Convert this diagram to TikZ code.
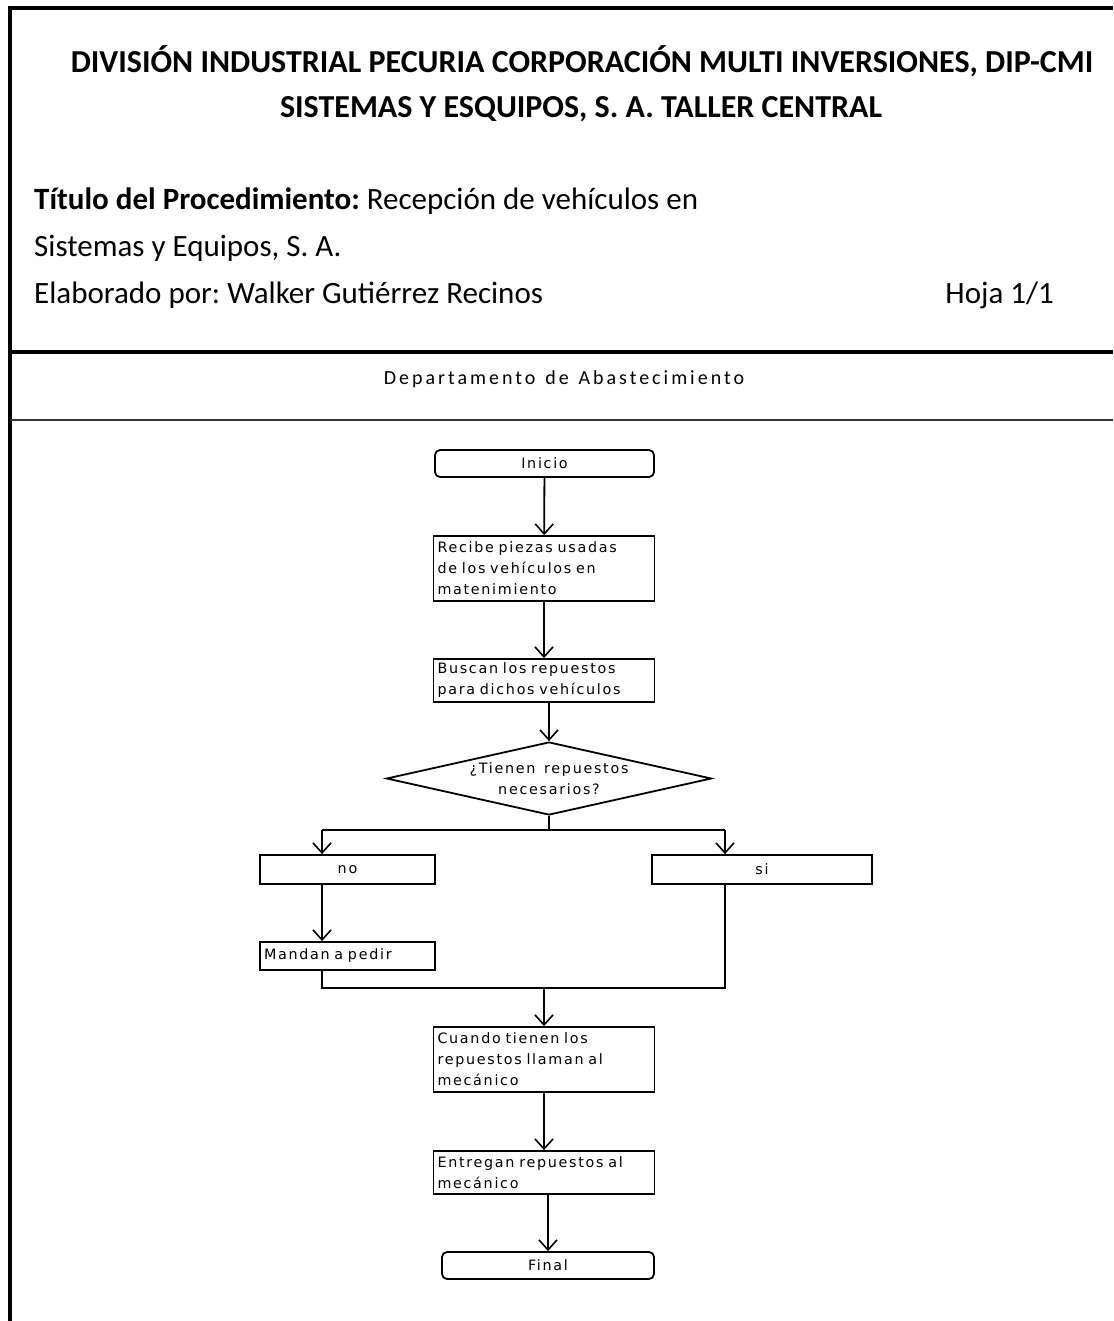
\documentclass[tikz,border=0pt]{standalone}
\usepackage{fontspec}
\setmainfont{Carlito}
\newfontfamily\flowfont{DejaVu Sans}[LetterSpace=12,WordSpace=1.4]
\newfontfamily\deptfont{Carlito}[LetterSpace=15,WordSpace=1.3]
\usetikzlibrary{arrows.meta,shapes.geometric,calc}
\frenchspacing
\begin{document}
\begin{tikzpicture}[x=1pt,y=-1pt,
  every node/.style={inner sep=0pt},
  box/.style={draw,line width=1.8pt,minimum height=#1,font=\flowfont\fontsize{14.3}{21}\selectfont},
  txtbox/.style={box=#1,text width=213pt,minimum width=221pt,align=left},
  term/.style={box=27pt,rounded corners=5pt},
  decision/.style={draw,line width=1.8pt,diamond,aspect=4.45,minimum width=325pt,minimum height=73pt,
    align=center,font=\flowfont\fontsize{14.3}{21}\selectfont},
  flow/.style={line width=1.8pt,-{Straight Barb[length=10pt,width=18pt,line width=1.6pt]}},
  link/.style={line width=1.8pt},
  head/.style={anchor=base west,font=\fontsize{31}{36}\selectfont}]
\useasboundingbox (0,0) rectangle (1113,1321);
\fill[white] (0,0) rectangle (1113,1321);

% page frame and header rules
\draw[line width=3.5pt] (10,1321) -- (10,8) -- (1113,8);
\draw[line width=3.5pt] (10,352) -- (1113,352);
\draw[line width=2.5pt,black!80] (10,420) -- (1113,420);

% header
\node[anchor=base,font=\bfseries\fontsize{32}{38}\selectfont] (t1) at (582,73)
  {DIVISIÓN INDUSTRIAL PECURIA CORPORACIÓN MULTI INVERSIONES, DIP-CMI};
\node[anchor=base,font=\bfseries\fontsize{32}{38}\selectfont] (t2) at (581,118)
  {SISTEMAS Y ESQUIPOS, S. A. TALLER CENTRAL};
\node[head] (t3) at (34,210) {\textbf{Título del Procedimiento:} Recepción de vehículos en};
\node[head] (t4) at (34,257) {Sistemas y Equipos, S. A.};
\node[head] (t5) at (34,303) {Elaborado por: Walker Gutiérrez Recinos};
\node[anchor=base east,font=\fontsize{31}{36}\selectfont] (t6) at (1054,303) {Hoja 1/1};
\node[anchor=base,font=\deptfont\fontsize{20}{24}\selectfont] (dept) at (564,384) {Departamento de Abastecimiento};

% flowchart
\node[term,minimum width=219pt] (inicio) at (544.5,463.5) {Inicio};
\node[txtbox=65pt] (recibe) at (544,568.5) {Recibe piezas usadas\\de los vehículos en\\matenimiento};
\node[txtbox=43pt] (buscan) at (544,680.5) {Buscan los repuestos\\para dichos vehículos};
\node[decision] (dec) at (549,778.5) {¿Tienen repuestos\\necesarios?};
\node[box=29pt,minimum width=175pt] (no) at (347.5,869.5) {no};
\node[box=29pt,minimum width=220pt] (si) at (762,869.5) {si};
\node[box=28pt,minimum width=175pt,text width=167pt,align=left] (mandan) at (347.5,956) {Mandan a pedir};
\node[txtbox=65pt] (cuando) at (544,1059.5) {Cuando tienen los\\repuestos llaman al\\mecánico};
\node[txtbox=43pt] (entregan) at (544,1172.5) {Entregan repuestos al\\mecánico};
\node[term,minimum width=212pt] (final) at (548,1265.5) {Final};

\coordinate (brL) at (322,830);
\coordinate (brR) at (725,830);
\coordinate (mgL) at (322,988);
\coordinate (mgR) at (725,988);

\draw[flow] (inicio) -- (recibe);
\draw[flow] (recibe) -- (buscan);
\draw[flow] (buscan.south -| dec.north) -- (dec.north);
\draw[link] (dec.south) -- (dec.south |- brL);
\draw[link] (brL) -- (brR);
\draw[flow] (brL) -- (brL |- no.north);
\draw[flow] (brR) -- (brR |- si.north);
\draw[flow] (no.south -| brL) -- (mandan.north -| brL);
\draw[link] (mandan.south -| mgL) -- (mgL) -- (mgR) -- (si.south -| mgR);
\draw[flow] (cuando.north |- mgL) -- (cuando.north);
\draw[flow] (cuando) -- (entregan);
\draw[flow] (entregan.south -| final.north) -- (final.north);
\end{tikzpicture}
\end{document}
